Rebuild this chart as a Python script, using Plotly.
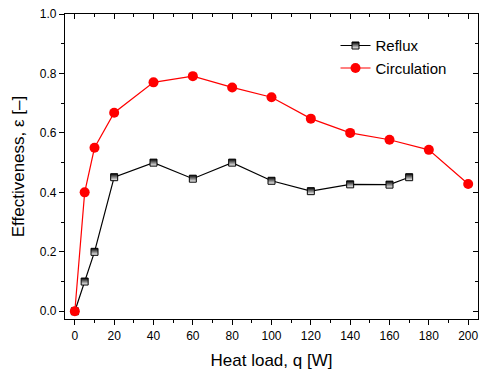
import plotly.graph_objects as go

reflux_q = [0, 5, 10, 20, 40, 60, 80, 100, 120, 140, 160, 170]
reflux_eff = [0.0, 0.10, 0.20, 0.451, 0.500, 0.446, 0.500, 0.439, 0.404, 0.427, 0.426, 0.451]
circ_q = [0, 5, 10, 20, 40, 60, 80, 100, 120, 140, 160, 180, 200]
circ_eff = [0.0, 0.400, 0.550, 0.668, 0.770, 0.791, 0.753, 0.720, 0.648, 0.600, 0.577, 0.543, 0.428]
x_ticks = list(range(0, 201, 20))
y_ticks = [0.0, 0.2, 0.4, 0.6, 0.8, 1.0]

FONT = "Liberation Sans, Arial, sans-serif"

fig = go.Figure()
fig.add_trace(go.Scatter(
    x=reflux_q, y=reflux_eff, name="Reflux", mode="lines+markers",
    line=dict(color="black", width=1.2),
    marker=dict(symbol="square", size=7, color="black",
                gradient=dict(type="vertical", color="white"),
                line=dict(color="black", width=1)),
))
fig.add_trace(go.Scatter(
    x=circ_q, y=circ_eff, name="Circulation", mode="lines+markers",
    line=dict(color="red", width=1.2),
    marker=dict(symbol="circle", size=10, color="red", line=dict(width=0)),
))
# invisible trace for top/right mirror axes
fig.add_trace(go.Scatter(x=[0], y=[0], xaxis="x2", yaxis="y2", showlegend=False,
                         mode="markers", marker=dict(opacity=0), hoverinfo="skip"))

axis_common = dict(showgrid=False, zeroline=False, showline=True, linecolor="black",
                   linewidth=1.3, tickcolor="black", tickwidth=1.2,
                   tickfont=dict(family=FONT, size=12, color="black"))

fig.update_layout(
    width=480, height=370,
    margin=dict(l=65, r=2, t=14, b=51),
    paper_bgcolor="white", plot_bgcolor="white",
    font=dict(family=FONT, color="black"),
    xaxis=dict(range=[-5, 205], tickvals=x_ticks, ticks="outside", ticklen=5,
               minor=dict(ticks="outside", ticklen=3, dtick=10, tickcolor="black", tickwidth=1),
               title=dict(text="Heat load, q [W]", font=dict(family=FONT, size=17), standoff=12),
               **axis_common),
    yaxis=dict(range=[-0.026, 1.0], tickvals=y_ticks, tickformat=".1f", ticks="outside", ticklen=5,
               minor=dict(ticks="outside", ticklen=3, dtick=0.1, tickcolor="black", tickwidth=1),
               title=dict(text="Effectiveness, ε [–]", font=dict(family=FONT, size=17), standoff=10),
               **axis_common),
    xaxis2=dict(overlaying="x", side="top", matches="x", range=[-5, 205], tickvals=x_ticks,
                ticks="inside", ticklen=5, showticklabels=False,
                minor=dict(ticks="inside", ticklen=3, dtick=10, tickcolor="black", tickwidth=1),
                **axis_common),
    yaxis2=dict(overlaying="y", side="right", matches="y", range=[-0.026, 1.0], tickvals=y_ticks,
                ticks="inside", ticklen=5, showticklabels=False,
                minor=dict(ticks="inside", ticklen=3, dtick=0.1, tickcolor="black", tickwidth=1),
                **axis_common),
    legend=dict(x=0.655, y=0.95, xanchor="left", yanchor="top", bgcolor="rgba(0,0,0,0)",
                font=dict(family=FONT, size=15), tracegroupgap=0, itemwidth=30),
    showlegend=True,
)

fig.write_html("out.html")
